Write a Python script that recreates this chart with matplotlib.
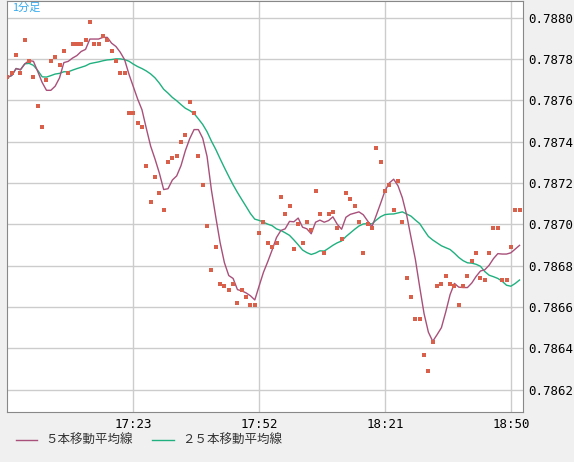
import numpy as np
import pandas as pd
import matplotlib.pyplot as plt

# 1-minute closes starting 16:54
closes = [
    0.78771, 0.78773, 0.78782, 0.78773, 0.78789, 0.78779, 0.78771, 0.78757, 0.78747, 0.78770,
    0.78779, 0.78781, 0.78777, 0.78784, 0.78773, 0.78787, 0.78787, 0.78787, 0.78789, 0.78798,
    0.78787, 0.78787, 0.78791, 0.78789, 0.78784, 0.78779, 0.78773, 0.78773, 0.78754, 0.78754,
    0.78749, 0.78747, 0.78728, 0.78711, 0.78723, 0.78715, 0.78707, 0.78730, 0.78732, 0.78733,
    0.78740, 0.78743, 0.78759, 0.78754, 0.78733, 0.78719, 0.78699, 0.78678, 0.78689, 0.78671,
    0.78670, 0.78668, 0.78671, 0.78662, 0.78668, 0.78665, 0.78661, 0.78661, 0.78696, 0.78701,
    0.78691, 0.78689, 0.78691, 0.78713, 0.78705, 0.78709, 0.78688, 0.78700, 0.78691, 0.78701,
    0.78697, 0.78716, 0.78705, 0.78686, 0.78705, 0.78706, 0.78698, 0.78693, 0.78715, 0.78712,
    0.78709, 0.78701, 0.78686, 0.78700, 0.78698, 0.78737, 0.78730, 0.78716, 0.78719, 0.78707,
    0.78721, 0.78701, 0.78674, 0.78665, 0.78654, 0.78654, 0.78637, 0.78629, 0.78643, 0.78670,
    0.78671, 0.78675, 0.78671, 0.78670, 0.78661, 0.78670, 0.78675, 0.78682, 0.78686, 0.78674,
    0.78673, 0.78686, 0.78698, 0.78698, 0.78673, 0.78673, 0.78689, 0.78707, 0.78707,
]
tick_pos = [29, 58, 87, 116]
tick_labels = ['17:23', '17:52', '18:21', '18:50']
y_ticks = [0.7862, 0.7864, 0.7866, 0.7868, 0.7870, 0.7872, 0.7874, 0.7876, 0.7878, 0.7880]

s = pd.Series(closes)
ma5 = s.rolling(5, min_periods=1).mean()
ma25 = s.rolling(25, min_periods=1).mean()
x = np.arange(len(closes))

plt.rcParams['font.family'] = ['Noto Sans CJK JP', 'DejaVu Sans']
fig = plt.figure(figsize=(5.74, 4.62), dpi=100, facecolor='#f0f0f0')
ax = fig.add_axes([7/574, 1 - 412/462, 516/574, 411/462])
ax.set_facecolor('white')

ax.plot(x, ma25, color='#20b080', lw=1)
ax.plot(x, ma5, color='#a8507a', lw=1)
ax.scatter(x, closes, marker='s', s=7, color='#d9604a', zorder=3, linewidths=0)

ax.set_xlim(-0.1, 118.8)
ax.set_ylim(0.786092, 0.78808)
ax.set_xticks(tick_pos)
ax.set_xticklabels(tick_labels, family='DejaVu Sans Mono', fontsize=9)
ax.yaxis.tick_right()
ax.set_yticks(y_ticks)
ax.set_yticklabels([f'{v:.4f}' for v in y_ticks], family='DejaVu Sans Mono', fontsize=9)
ax.tick_params(length=0, pad=4)
ax.grid(True, color='#cccccc', lw=1)
ax.set_axisbelow(True)
for sp in ax.spines.values():
    sp.set_color('#888888')

ax.text(0.01, 0.995, '1分足', transform=ax.transAxes, color='#33aaee',
        fontsize=8, va='top', ha='left')

fig.lines.append(plt.Line2D([16/574, 37/574], [1-440/462]*2, color='#a8507a', lw=1, transform=fig.transFigure))
fig.text(45/574, 1-440/462, '５本移動平均線', fontsize=9, va='center', color='#333333')
fig.lines.append(plt.Line2D([152/574, 174/574], [1-440/462]*2, color='#20b080', lw=1, transform=fig.transFigure))
fig.text(182/574, 1-440/462, '２５本移動平均線', fontsize=9, va='center', color='#333333')

fig.savefig('out.png', dpi=100, facecolor=fig.get_facecolor())
